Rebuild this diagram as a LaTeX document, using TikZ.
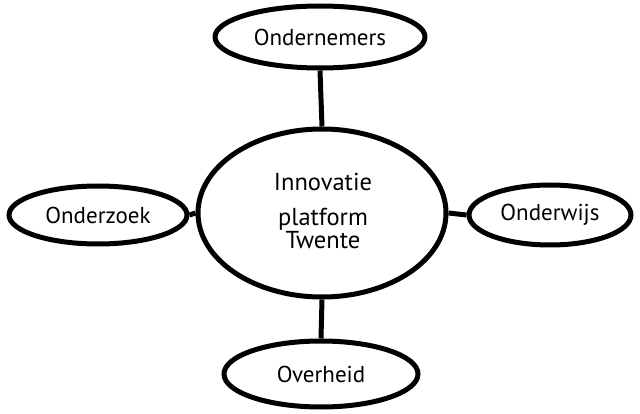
\documentclass[tikz,border=0pt]{standalone}
\usepackage{fontspec}
\setmainfont{PT Sans}
\usetikzlibrary{shapes.geometric}
\begin{document}
\begin{tikzpicture}[x=1pt,y=-1pt,
  oval/.style={draw,line width=5pt,ellipse,inner sep=0pt},
  conn/.style={line width=5pt},
  lbl/.style={font=\fontsize{23}{23}\selectfont}]
\useasboundingbox (0,0) rectangle (640,414);
\node[oval,minimum width=248,minimum height=168] (c) at (322,213) {};
\node[lbl,font=\fontsize{24.5}{23}\selectfont,align=center] (ct) at (323,211) {Innovatie\\[12pt]platform\\Twente};
\node[oval,minimum width=210,minimum height=62] (t) at (320,37) {};
\node[lbl] at (t) {Ondernemers};
\node[oval,minimum width=178,minimum height=58] (l) at (98,215) {};
\node[lbl] at (l) {Onderzoek};
\node[oval,minimum width=162,minimum height=60] (r) at (550,215) {};
\node[lbl] at (r) {Onderwijs};
\node[oval,minimum width=194,minimum height=66] (b) at (321,374) {};
\node[lbl] at (b) {Overheid};
\draw[conn] (t.south) -- (c.north);
\draw[conn] (l.east) -- (c.west);
\draw[conn] (c.east) -- (r.west);
\draw[conn] (c.south) -- (b.north);
\end{tikzpicture}
\end{document}
